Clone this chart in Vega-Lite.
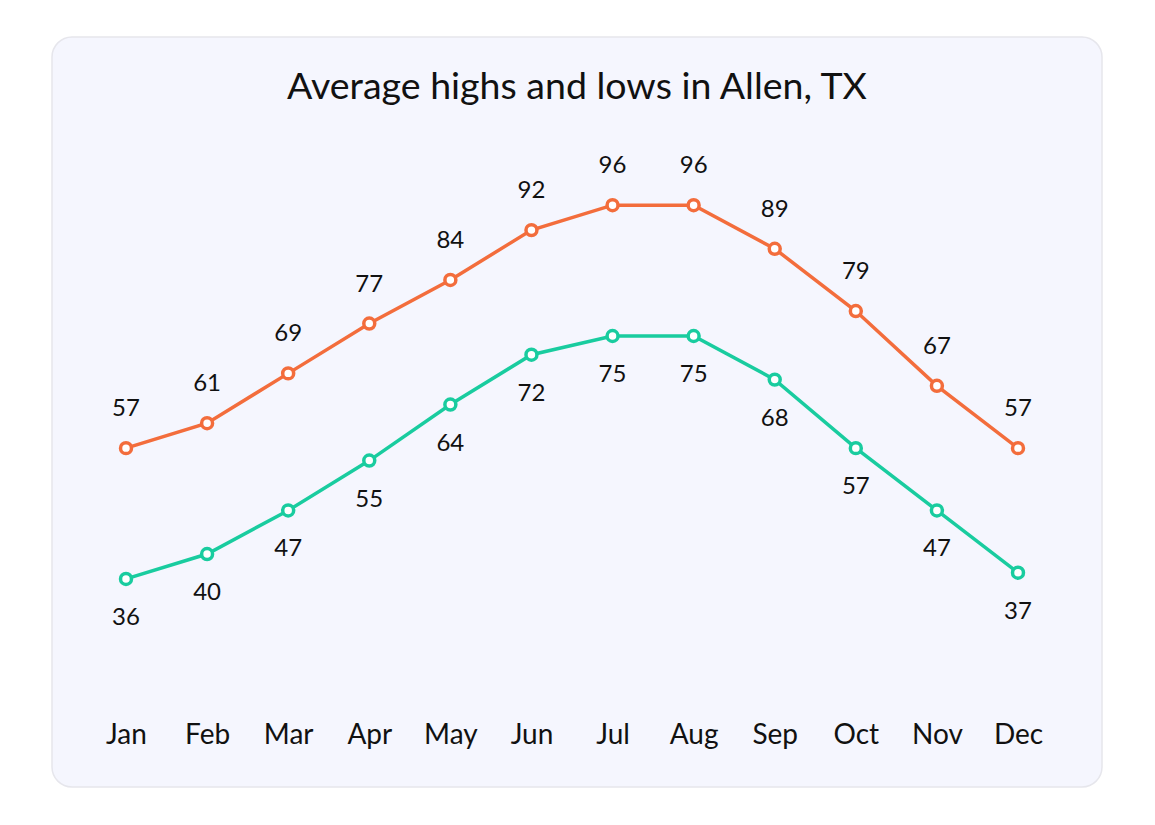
{
  "$schema": "https://vega.github.io/schema/vega-lite/v6.json",
  "width": 1050,
  "height": 750,
  "autosize": {"type": "none"},
  "padding": {"left": 52, "top": 37, "right": 53, "bottom": 38},
  "background": "#ffffff",
  "view": {"fill": "#f5f6fe", "stroke": "#e6e6ec", "strokeWidth": 1.5, "cornerRadius": 20},
  "config": {"font": "Lato"},
  "title": {
    "text": "Average highs and lows in Allen, TX",
    "anchor": "middle",
    "frame": "group",
    "orient": "top",
    "baseline": "alphabetic",
    "offset": -99,
    "fontSize": 37.5,
    "fontWeight": "normal",
    "color": "#111111",
    "font": "Lato"
  },
  "data": {
    "values": [
      {"month": "Jan", "series": "high", "temp": 57},
      {"month": "Feb", "series": "high", "temp": 61},
      {"month": "Mar", "series": "high", "temp": 69},
      {"month": "Apr", "series": "high", "temp": 77},
      {"month": "May", "series": "high", "temp": 84},
      {"month": "Jun", "series": "high", "temp": 92},
      {"month": "Jul", "series": "high", "temp": 96},
      {"month": "Aug", "series": "high", "temp": 96},
      {"month": "Sep", "series": "high", "temp": 89},
      {"month": "Oct", "series": "high", "temp": 79},
      {"month": "Nov", "series": "high", "temp": 67},
      {"month": "Dec", "series": "high", "temp": 57},
      {"month": "Jan", "series": "low", "temp": 36},
      {"month": "Feb", "series": "low", "temp": 40},
      {"month": "Mar", "series": "low", "temp": 47},
      {"month": "Apr", "series": "low", "temp": 55},
      {"month": "May", "series": "low", "temp": 64},
      {"month": "Jun", "series": "low", "temp": 72},
      {"month": "Jul", "series": "low", "temp": 75},
      {"month": "Aug", "series": "low", "temp": 75},
      {"month": "Sep", "series": "low", "temp": 68},
      {"month": "Oct", "series": "low", "temp": 57},
      {"month": "Nov", "series": "low", "temp": 47},
      {"month": "Dec", "series": "low", "temp": 37}
    ]
  },
  "encoding": {
    "x": {
      "field": "month",
      "type": "ordinal",
      "sort": ["Jan","Feb","Mar","Apr","May","Jun","Jul","Aug","Sep","Oct","Nov","Dec"],
      "scale": {"type": "point", "range": [74, 966], "padding": 0},
      "axis": {
        "title": null,
        "domain": false,
        "ticks": false,
        "grid": false,
        "labelAngle": 0,
        "labelFontSize": 28,
        "labelColor": "#111111",
        "labelFont": "Lato",
        "labelBaseline": "alphabetic",
        "labelPadding": 6,
        "offset": -50
      }
    },
    "y": {
      "field": "temp",
      "type": "quantitative",
      "scale": {"domain": [2.6, 123], "nice": false, "zero": false},
      "axis": null
    }
  },
  "layer": [
    {
      "mark": {"type": "line", "strokeWidth": 3.5},
      "encoding": {
        "color": {
          "field": "series",
          "type": "nominal",
          "scale": {"domain": ["high", "low"], "range": ["#f36d3c", "#19cc9f"]},
          "legend": null
        }
      }
    },
    {
      "mark": {"type": "point", "shape": "circle", "filled": false, "fill": "#ffffff", "fillOpacity": 1, "opacity": 1, "strokeWidth": 3.5, "size": 120},
      "encoding": {
        "stroke": {
          "field": "series",
          "type": "nominal",
          "scale": {"domain": ["high", "low"], "range": ["#f36d3c", "#19cc9f"]},
          "legend": null
        }
      }
    },
    {
      "transform": [{"filter": "datum.series === 'high'"}],
      "mark": {"type": "text", "dy": -39, "fontSize": 24, "color": "#111111", "font": "Lato", "baseline": "middle"},
      "encoding": {"text": {"field": "temp", "type": "quantitative"}}
    },
    {
      "transform": [{"filter": "datum.series === 'low'"}],
      "mark": {"type": "text", "dy": 39, "fontSize": 24, "color": "#111111", "font": "Lato", "baseline": "middle"},
      "encoding": {"text": {"field": "temp", "type": "quantitative"}}
    }
  ]
}
